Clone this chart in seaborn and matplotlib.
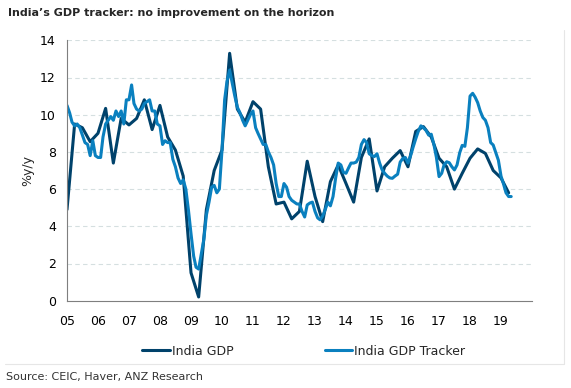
import pandas as pd
import matplotlib.pyplot as plt
import matplotlib.lines as mlines
import seaborn as sns

# ── Data ─────────────────────────────────────────────────
gdp_start = '2005-01-01'
india_gdp = [4.9, 9.5, 9.3, 8.55, 9.0, 10.34, 7.4, 9.8,
             9.45, 9.8, 10.8, 9.2, 10.5, 8.8, 8.1, 6.7,
             1.5, 0.2, 4.9, 7.0, 8.1, 13.3, 10.3, 9.6,
             10.7, 10.3, 7.2, 5.2, 5.3, 4.4, 4.8, 7.5,
             5.6, 4.25, 6.4, 7.3, 6.3, 5.3, 7.7, 8.7,
             5.9, 7.2, 7.66, 8.07, 7.2, 9.1, 9.36, 8.8,
             7.66, 7.2, 6.0, 6.85, 7.66, 8.16, 7.92, 7.0,
             6.6, 5.8]

tracker_start = '2005-01-01'
gdp_tracker = [10.5, 10.1, 9.6, 9.4, 9.5, 9.3, 8.9, 8.5, 8.4, 7.8, 8.6, 7.8,
               7.7, 7.7, 8.8, 9.5, 9.7, 9.9, 9.7, 10.2, 9.9, 10.2, 9.5, 10.8,
               10.8, 11.6, 10.6, 10.3, 10.2, 10.3, 10.6, 10.7, 10.8, 10.2, 10.2, 9.5,
               9.4, 8.4, 8.6, 8.5, 8.5, 7.6, 7.2, 6.6, 6.3, 6.5, 6.0, 4.9,
               3.6, 2.4, 1.8, 1.7, 2.5, 3.3, 4.6, 5.3, 6.1, 6.2, 5.8, 6.0,
               8.1, 10.8, 11.8, 12.4, 11.7, 11.0, 10.4, 10.1, 9.7, 9.4, 9.7, 10.0,
               10.2, 9.3, 9.0, 8.7, 8.4, 8.4, 8.0, 7.7, 7.3, 6.3, 5.6, 5.6,
               6.3, 6.1, 5.6, 5.4, 5.3, 5.2, 5.2, 4.8, 4.5, 5.15, 5.25, 5.3,
               4.8, 4.45, 4.35, 4.55, 4.9, 5.3, 5.1, 5.6, 6.6, 7.4, 7.3, 6.9,
               6.85, 7.15, 7.4, 7.4, 7.45, 7.7, 8.4, 8.66, 8.5, 7.9, 7.8, 7.75,
               7.9, 7.4, 7.05, 6.85, 6.7, 6.6, 6.58, 6.7, 6.8, 7.45, 7.65, 7.7,
               7.4, 7.8, 8.25, 8.7, 9.1, 9.4, 9.3, 9.15, 8.9, 8.95, 8.4, 7.7,
               6.67, 6.85, 7.3, 7.47, 7.42, 7.2, 7.03, 7.3, 7.95, 8.35, 8.3, 9.3,
               11.0, 11.15, 10.95, 10.65, 10.2, 9.85, 9.7, 9.3, 8.5, 8.37, 7.95, 7.55,
               6.7, 6.25, 5.8, 5.6, 5.6]

year_labels = ['05', '06', '07', '08', '09', '10', '11', '12', '13', '14',
               '15', '16', '17', '18', '19']

gdp_dates = pd.date_range(gdp_start, periods=len(india_gdp), freq='QS')
tracker_dates = pd.date_range(tracker_start, periods=len(gdp_tracker), freq='MS')

# ── Style ─────────────────────────────────────────────────
sns.set_style('white')
plt.rcParams['font.family'] = ['DejaVu Sans']

dark = '#00426B'
light = '#0A80BF'

fig = plt.figure(figsize=(5.71, 3.88), dpi=100)
ax = fig.add_axes([67 / 571, 1 - 300.7 / 388, 465 / 571, 260.4 / 388])

sns.lineplot(x=gdp_dates, y=india_gdp, ax=ax, color=dark, lw=2.2)
sns.lineplot(x=tracker_dates, y=gdp_tracker, ax=ax, color=light, lw=2.2)

ax.set_ylim(0, 14)
ax.set_yticks(range(0, 15, 2))
ax.set_xlim(pd.Timestamp('2005-01-01'), pd.Timestamp('2020-01-01'))
ticks = pd.date_range('2005-01-01', '2020-01-01', freq='YS')
ax.set_xticks(ticks)
ax.set_xticklabels(year_labels + [''])

for y in range(2, 15, 2):
    ax.axhline(y, color='#D5DFE0', lw=0.8, dashes=(4, 3), zorder=0)

ax.spines['top'].set_visible(False)
ax.spines['right'].set_visible(False)
ax.spines['left'].set_color('#7F7F7F')
ax.spines['bottom'].set_color('#7F7F7F')
ax.tick_params(axis='both', direction='out', length=5, width=1,
               color='#7F7F7F', labelsize=9, labelcolor='black', pad=3)
ax.tick_params(axis='x', pad=5)
ax.set_xlabel('')
ax.set_ylabel('%y/y', fontsize=9, labelpad=4)

# legend below the axis
h1 = mlines.Line2D([], [], color=dark, lw=2.2)
h2 = mlines.Line2D([], [], color=light, lw=2.2)
fig.legend([h1, h2], ['India GDP', 'India GDP Tracker'],
           loc='center', bbox_to_anchor=(0.532, 0.095), ncol=2,
           frameon=False, fontsize=9, handlelength=2.2,
           handletextpad=0.15, columnspacing=7.3)

fig.text(8 / 571, 1 - 13 / 388, 'India\u2019s GDP tracker: no improvement on the horizon',
         fontsize=8, fontweight='bold', va='center', ha='left')
fig.text(6 / 571, 1 - 377 / 388, 'Source: CEIC, Haver, ANZ Research',
         fontsize=8, va='center', ha='left', color='#333333')

# faint frame lines
fig.add_artist(mlines.Line2D([5 / 571, 564 / 571], [1 - 364 / 388] * 2,
                             color='#E6E6E6', lw=0.8))
fig.add_artist(mlines.Line2D([564 / 571] * 2, [1 - 364 / 388, 1 - 30 / 388],
                             color='#E6E6E6', lw=0.8))

plt.savefig('out.png', dpi=100)
plt.close()
